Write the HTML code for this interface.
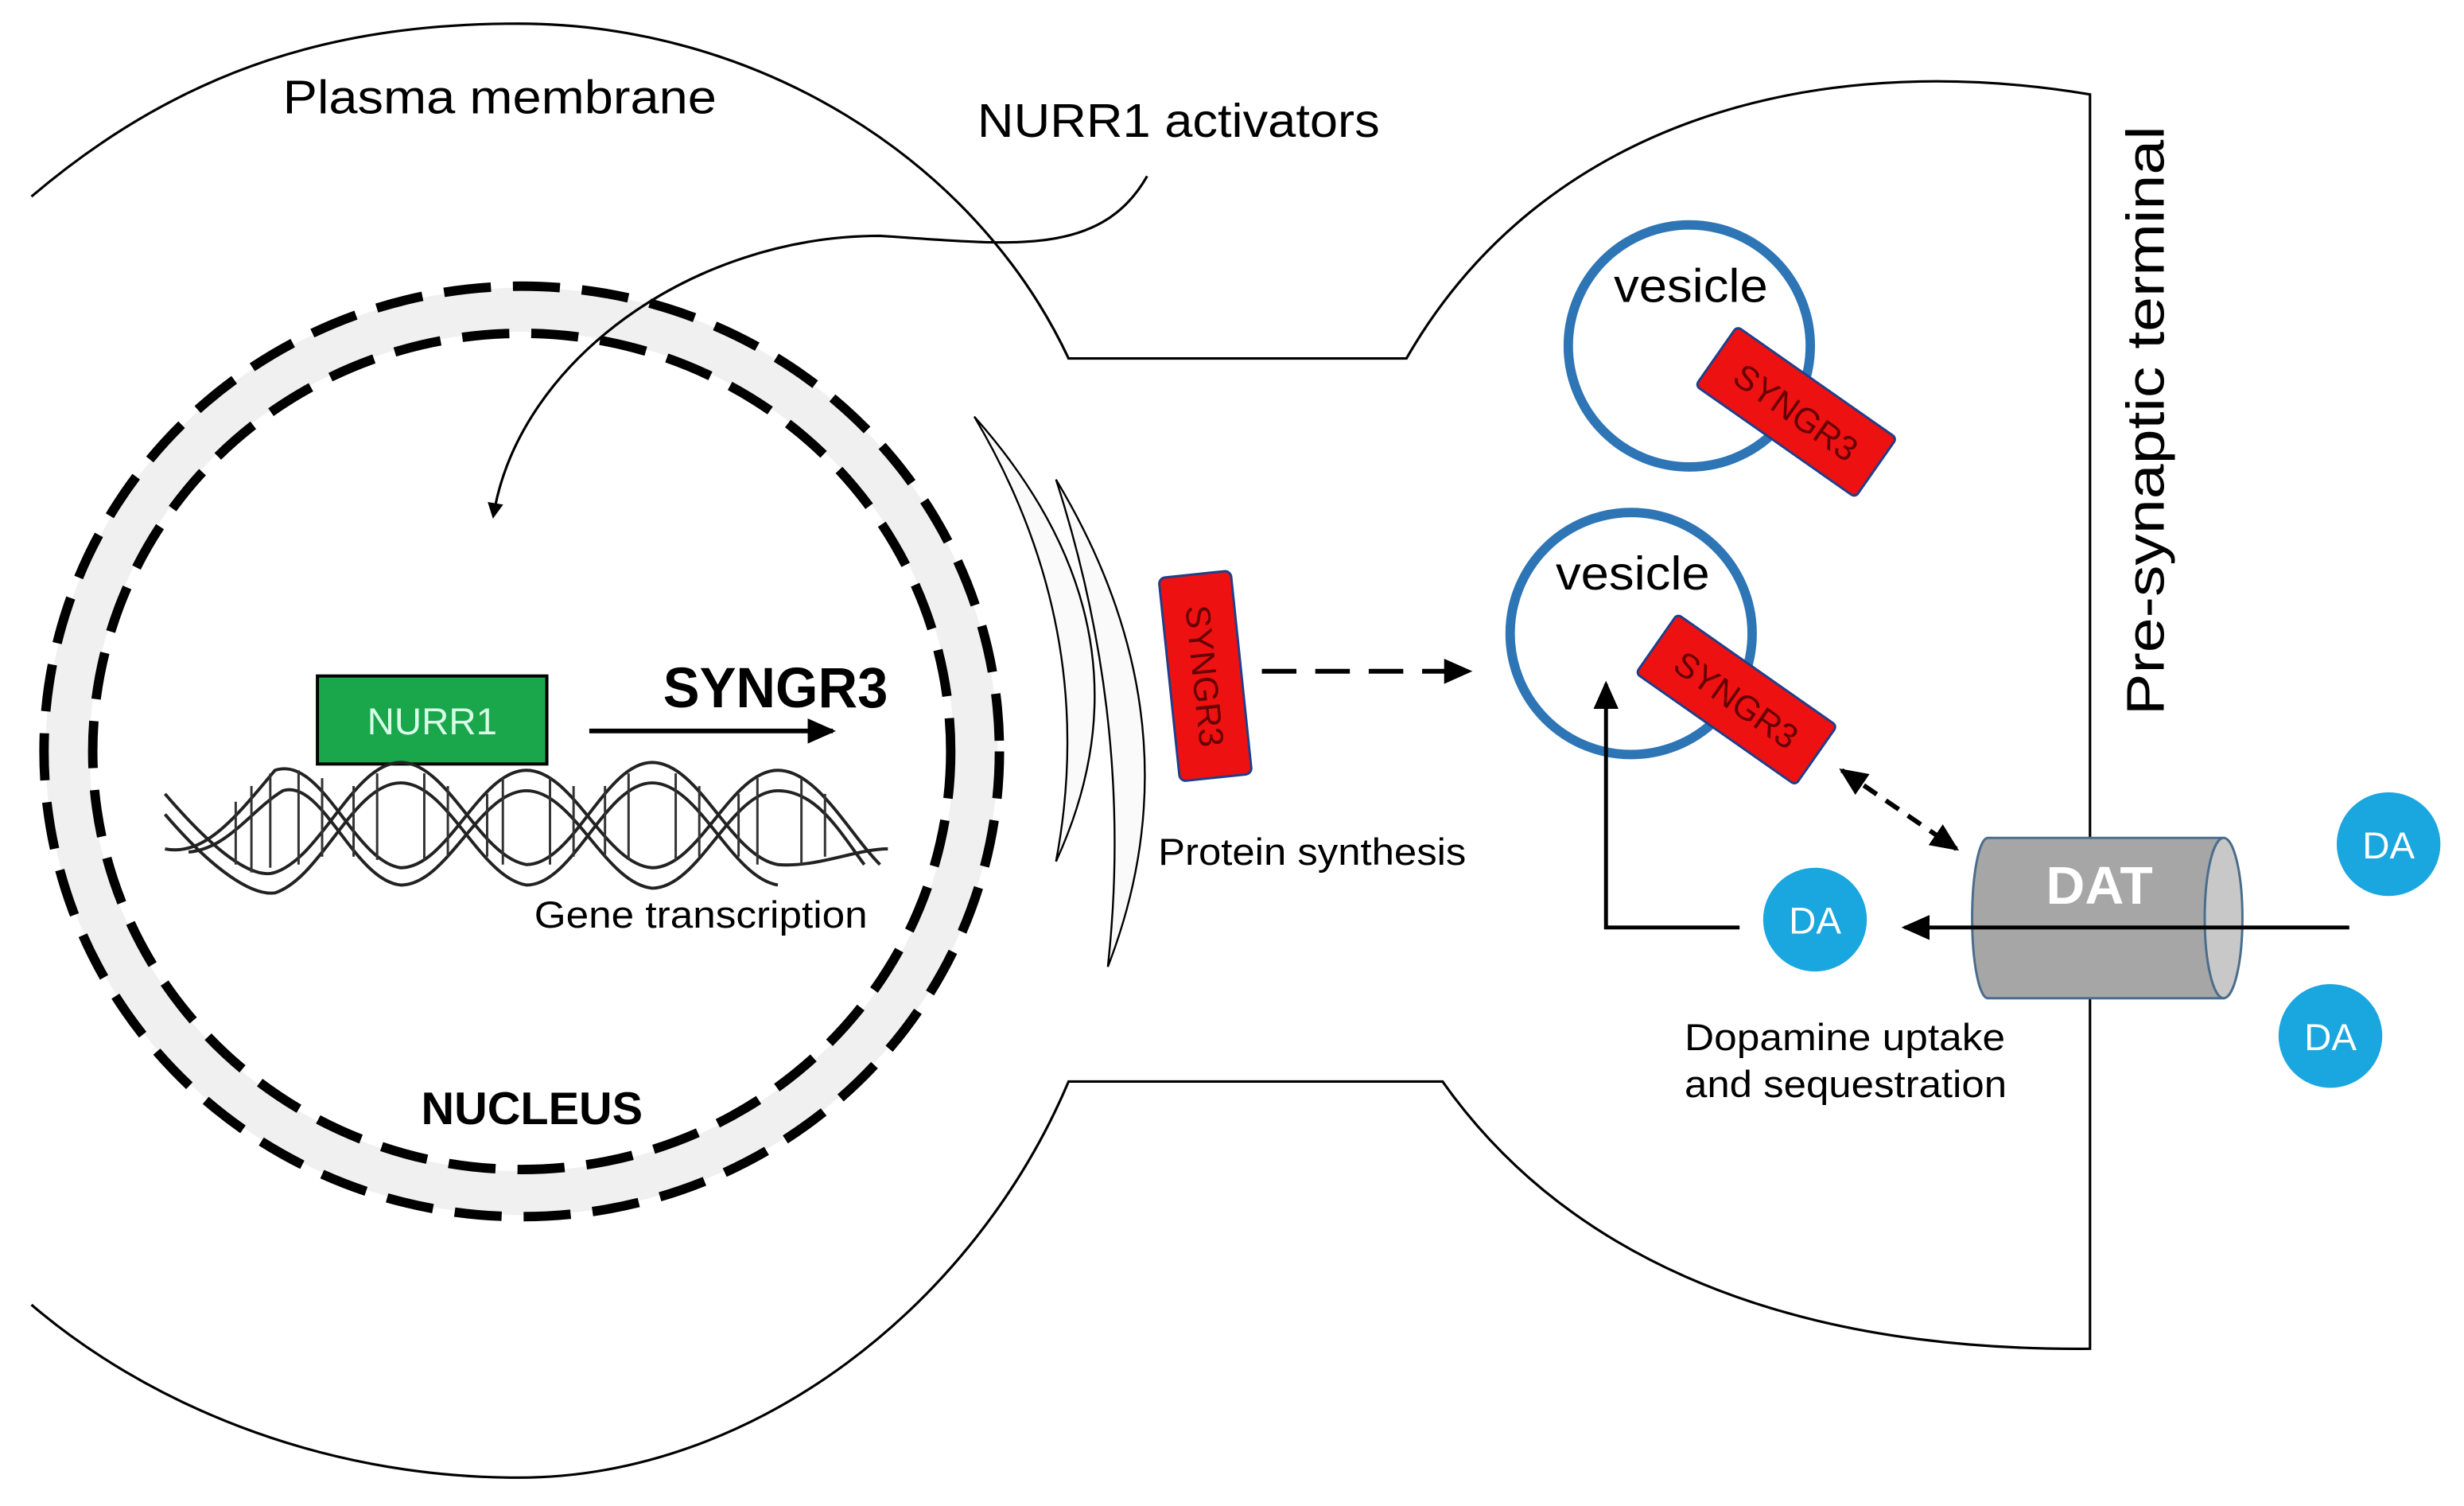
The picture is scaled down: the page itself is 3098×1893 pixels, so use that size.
<!DOCTYPE html>
<html><head><meta charset="utf-8"><style>html,body{margin:0;padding:0;background:#fff}svg{display:block}text{font-family:"Liberation Sans",sans-serif}</style></head><body>
<svg width="3098" height="1893" viewBox="0 0 1568 958" xmlns="http://www.w3.org/2000/svg">
<defs>
<marker id="ah" markerWidth="10" markerHeight="10" refX="8" refY="5" orient="auto" markerUnits="userSpaceOnUse"><path d="M0,0 L10,5 L0,10 z" fill="#000"/></marker>
<marker id="ahL" markerWidth="20" markerHeight="20" refX="16" refY="10" orient="auto-start-reverse" markerUnits="userSpaceOnUse"><path d="M0,2 L18,10 L0,18 z" fill="#000"/></marker>
</defs>
<g fill="none" stroke="#000" stroke-width="1.6">
<path d="M20,125 C120,40 220,15 330,15 C480,15 620,100 680,228 L895,228 C980,80 1150,30 1330,60 L1330,858 C1120,860 990,790 918,688 L680,688 C620,830 480,940 330,940 C200,940 90,890 20,830"/>
</g>
<ellipse cx="332" cy="478" rx="289" ry="281" fill="none" stroke="#f0f0f0" stroke-width="28"/>
<ellipse cx="332" cy="478" rx="304" ry="296" fill="none" stroke="#000" stroke-width="6" stroke-dasharray="30,14"/>
<ellipse cx="332" cy="478" rx="273" ry="266" fill="none" stroke="#000" stroke-width="6" stroke-dasharray="30,14"/>
<path d="M730,112 C700,165 640,155 560,150 C440,150 330,230 314,328" fill="none" stroke="#000" stroke-width="1.6" marker-end="url(#ah)"/>
<g fill="#fafafa" stroke="#000" stroke-width="1.2">
<path d="M620,265 Q740,400 672,548 Q700,400 620,265 z"/>
<path d="M672,305 Q765,460 705,615 Q722,460 672,305 z"/>
</g>
<rect x="202" y="430" width="146" height="56" fill="#1aa64a" stroke="#000" stroke-width="2"/>
<text x="275" y="467" font-size="24" fill="#d8ffe8" text-anchor="middle">NURR1</text>
<line x1="375" y1="465" x2="530" y2="465" stroke="#000" stroke-width="3" marker-end="url(#ahL)"/>
<text x="422" y="450" font-size="36" font-weight="bold" textLength="143" lengthAdjust="spacingAndGlyphs">SYNGR3</text>
<g fill="none" stroke="#222" stroke-width="2">
<path d="M105,505 C135,540 160,560 175,555 C205,545 225,485 255,485 C285,485 305,545 335,550 C365,550 385,485 415,485 C445,485 465,545 495,550 C520,552 545,540 565,540"/>
<path d="M105,518 C135,553 160,570 175,568 C205,558 225,498 255,498 C285,498 305,558 335,563 C365,563 385,498 415,498 C445,498 465,558 495,563"/>
<path d="M105,540 C130,545 150,520 175,490 C205,480 225,548 255,552 C285,552 305,490 335,490 C365,490 385,550 415,552 C445,552 465,490 495,490 C520,490 540,530 560,550"/>
<path d="M120,542 C145,540 160,515 180,503 C205,495 225,560 255,563 C285,563 305,503 335,503 C365,503 385,562 415,565 C445,565 465,503 495,503 C520,503 535,530 550,550"/>
</g>
<g stroke="#333" stroke-width="1.5">
<path d="M150,510 v40 M160,500 v55 M172,492 v60 M190,490 v60 M205,495 v50 M225,500 v45 M240,492 v55 M270,492 v55 M285,500 v45 M310,505 v40 M320,495 v55 M350,495 v55 M365,500 v45 M385,500 v45 M400,492 v55 M430,492 v55 M445,500 v45 M470,505 v40 M482,495 v55 M510,495 v55 M525,505 v40"/>
</g>
<text x="340" y="590" font-size="24" textLength="212" lengthAdjust="spacingAndGlyphs">Gene transcription</text>
<text x="268" y="715" font-size="29" font-weight="bold" textLength="141" lengthAdjust="spacingAndGlyphs">NUCLEUS</text>
<text x="180" y="72" font-size="30" textLength="276" lengthAdjust="spacingAndGlyphs">Plasma membrane</text>
<text x="622" y="87" font-size="30" textLength="256" lengthAdjust="spacingAndGlyphs">NURR1 activators</text>
<g transform="translate(767,430) rotate(-6)">
<rect x="-23" y="-65" width="46" height="130" rx="4" fill="#ee1111" stroke="#1f3f8a" stroke-width="1.5"/>
<text transform="rotate(90)" x="0" y="8" font-size="22" text-anchor="middle" fill="#600">SYNGR3</text>
</g>
<line x1="803" y1="427" x2="935" y2="427" stroke="#000" stroke-width="3" stroke-dasharray="22,12" marker-end="url(#ahL)"/>
<text x="737" y="550" font-size="24" textLength="196" lengthAdjust="spacingAndGlyphs">Protein synthesis</text>
<circle cx="1075" cy="220" r="77" fill="#fff" stroke="#2e75b6" stroke-width="6"/>
<text x="1027" y="192" font-size="30" textLength="98" lengthAdjust="spacingAndGlyphs">vesicle</text>
<g transform="translate(1143,262) rotate(35)"><rect x="-62" y="-23" width="124" height="46" rx="3" fill="#ee1111" stroke="#1f3f8a" stroke-width="1.5"/><text x="0" y="8" font-size="22" text-anchor="middle" fill="#600">SYNGR3</text></g>
<circle cx="1038" cy="403" r="77" fill="#fff" stroke="#2e75b6" stroke-width="6"/>
<text x="990" y="375" font-size="30" textLength="98" lengthAdjust="spacingAndGlyphs">vesicle</text>
<g transform="translate(1105,445) rotate(35)"><rect x="-62" y="-23" width="124" height="46" rx="3" fill="#ee1111" stroke="#1f3f8a" stroke-width="1.5"/><text x="0" y="8" font-size="22" text-anchor="middle" fill="#600">SYNGR3</text></g>
<line x1="1172" y1="490" x2="1245" y2="540" stroke="#000" stroke-width="3" stroke-dasharray="10,7" marker-start="url(#ahL)" marker-end="url(#ahL)"/>
<path d="M1265,533 L1415,533 L1415,635 L1265,635 A10,51 0 0 1 1265,533 z" fill="#a6a6a6" stroke="#4a6d8c" stroke-width="1.5"/>
<ellipse cx="1415" cy="584" rx="12" ry="51" fill="#c8c8c8" stroke="#4a6d8c" stroke-width="1.5"/>
<text x="1302" y="575" font-size="34" font-weight="bold" fill="#fff" textLength="68" lengthAdjust="spacingAndGlyphs">DAT</text>
<line x1="1495" y1="590" x2="1212" y2="590" stroke="#000" stroke-width="2.5" marker-end="url(#ahL)"/>
<path d="M1107,590 L1022,590 L1022,435" fill="none" stroke="#000" stroke-width="2.5" marker-end="url(#ahL)"/>
<g font-size="24" fill="#fff" text-anchor="middle">
<circle cx="1155" cy="585" r="33" fill="#1aa6de"/><text x="1155" y="594">DA</text>
<circle cx="1520" cy="537" r="33" fill="#1aa6de"/><text x="1520" y="546">DA</text>
<circle cx="1483" cy="659" r="33" fill="#1aa6de"/><text x="1483" y="668">DA</text>
</g>
<text x="1072" y="668" font-size="24" textLength="204" lengthAdjust="spacingAndGlyphs">Dopamine uptake</text>
<text x="1072" y="698" font-size="24" textLength="205" lengthAdjust="spacingAndGlyphs">and sequestration</text>
<text transform="translate(1377,455) rotate(-90)" font-size="34" textLength="375" lengthAdjust="spacingAndGlyphs">Pre-synaptic terminal</text>
</svg>
</body></html>
